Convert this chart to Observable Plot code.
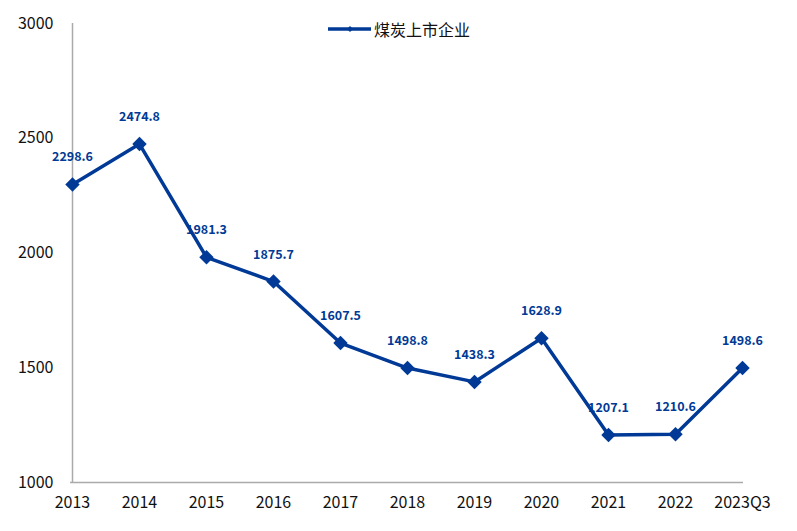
<!DOCTYPE html>
<html><head><meta charset="utf-8">
<script src="https://cdn.jsdelivr.net/npm/d3@7"></script>
<script src="https://cdn.jsdelivr.net/npm/@observablehq/plot@0.6"></script>
<style>
body{margin:0;background:#fff;font-family:"Noto Sans CJK SC","Microsoft YaHei",sans-serif;}
#wrap{position:relative;width:797px;height:531px;}
#legend{position:absolute;left:328px;top:17px;display:flex;align-items:center;font-size:16px;color:#111;}
#legend svg{margin-right:3px}
</style></head><body>
<div id="wrap"><div id="legend"><svg width="43" height="10"><line x1="0" y1="5" x2="43" y2="5" stroke="#003a96" stroke-width="3.5"/><path d="M22,2 L25,5 L22,8 L19,5Z" fill="#003a96"/></svg><span>煤炭上市企业</span></div></div>
<script>
const categories = ["2013","2014","2015","2016","2017","2018","2019","2020","2021","2022","2023Q3"];
const values = [2298.6,2474.8,1981.3,1875.7,1607.5,1498.8,1438.3,1628.9,1207.1,1210.6,1498.6];
const yTicks = [1000,1500,2000,2500,3000];
const data = categories.map((c,i)=>({cat:c, v:values[i]}));
const color = "#003a96";
const chart = Plot.plot({
  width:797, height:531,
  marginLeft:70, marginRight:54, marginTop:23, marginBottom:49,
  style:{fontFamily:'"Noto Sans CJK SC","Microsoft YaHei",sans-serif', fontSize:"16px", background:"#fff"},
  x:{type:"point", domain:categories, padding:0, label:null},
  y:{domain:[1000,3000], ticks:yTicks, label:null},
  marks:[
    Plot.ruleX([categories[0]], {stroke:"#aaa", strokeWidth:1.5, y1:1000, y2:3000}),
    Plot.ruleY([1000], {stroke:"#aaa", strokeWidth:1.5}),
    Plot.axisY({ticks:yTicks, tickSize:0, tickPadding:17, fontSize:16, fill:"#111", tickFormat:d=>String(d)}),
    Plot.axisX({tickSize:0, tickPadding:14, fontSize:16, fill:"#111"}),
    Plot.line(data, {x:"cat", y:"v", stroke:color, strokeWidth:3.5}),
    Plot.dot(data, {x:"cat", y:"v", symbol:"diamond2", r:6.5, fill:color, stroke:null}),
    Plot.text(data, {x:"cat", y:"v", text:d=>d.v.toFixed(1), dy:-27, fill:color, fontWeight:"bold", fontSize:12.5})
  ]
});
document.getElementById("wrap").prepend(chart);
</script></body></html>
